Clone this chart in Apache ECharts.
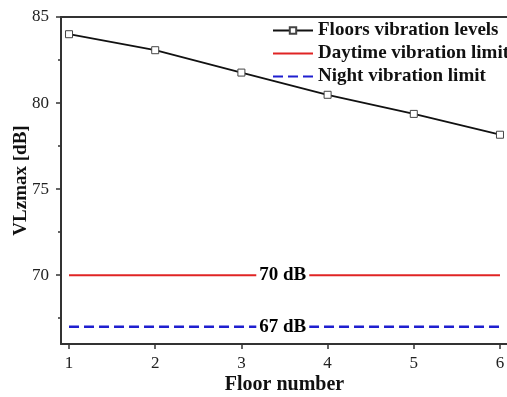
<!DOCTYPE html>
<html>
<head>
<meta charset="utf-8">
<script src="https://cdn.jsdelivr.net/npm/echarts@6/dist/echarts.min.js"></script>
<style>
  html, body { margin: 0; padding: 0; background: #fff; }
  #chart { width: 507px; height: 397px; }
</style>
</head>
<body>
<div id="chart"></div>
<script>
// data
var floors = [1, 2, 3, 4, 5, 6];
var floorLevels = [84.0, 83.07, 81.77, 80.48, 79.37, 78.16];
var dayLimit = 70;
var nightLimit = 67;
var limitLabelX = 3.48;   // where the "xx dB" tags sit on the limit lines
var yTicks = [70, 75, 80, 85];
var yMinorTicks = [67.5, 72.5, 77.5, 82.5];

var serif = '"Liberation Serif", "DejaVu Serif", serif';

var levelData = floors.map(function (f, i) { return [f, floorLevels[i]]; });
var dayData = [[floors[0], dayLimit], [floors[floors.length - 1], dayLimit]];
var nightData = [[floors[0], nightLimit], [floors[floors.length - 1], nightLimit]];

var dom = echarts.init(document.getElementById('chart'));

// legend entries for the plain limit lines: line only, no dot
var noDot = { color: 'rgba(0,0,0,0)', borderWidth: 0 };

// the frame's right side is cut off in the original
var xMin = 0.907, xMax = 6.093;

var option = {
    animation: false,
    grid: {
        left: 61,
        right: -1,
        top: 17,
        bottom: 53,
        outerBoundsMode: 'none',
        containLabel: false
    },
    legend: {
        left: 267,
        top: 16,
        orient: 'vertical',
        itemWidth: 40,
        itemHeight: 8,
        itemGap: 4,
        textStyle: {
            fontFamily: serif,
            fontWeight: 'bold',
            fontSize: 19,
            lineHeight: 19,
            color: '#111'
        },
        data: [
            'Floors vibration levels',
            { name: 'Daytime vibration limit', itemStyle: noDot },
            { name: 'Night vibration limit', itemStyle: noDot }
        ]
    },
    xAxis: [{
        type: 'value',
        min: xMin,
        max: xMax,
        name: 'Floor number',
        nameLocation: 'middle',
        nameGap: 31,
        nameMoveOverlap: false,
        nameTextStyle: {
            fontFamily: serif,
            fontWeight: 'bold',
            fontSize: 20,
            color: '#111'
        },
        axisLine: { show: true, lineStyle: { color: '#333', width: 2 } },
        axisTick: {
            show: true,
            length: 5,
            customValues: floors,
            lineStyle: { color: '#333', width: 1.5 }
        },
        axisLabel: {
            customValues: floors,
            margin: 11,
            fontFamily: serif,
            fontSize: 17,
            color: '#222'
        },
        splitLine: { show: false }
    }, {
        // top frame line only
        type: 'value',
        position: 'top',
        min: xMin,
        max: xMax,
        axisLine: { show: true, lineStyle: { color: '#333', width: 2 } },
        axisTick: { show: false },
        axisLabel: { show: false },
        splitLine: { show: false }
    }],
    yAxis: [{
        type: 'value',
        min: 66,
        max: 85,
        name: 'VLzmax [dB]',
        nameLocation: 'middle',
        nameGap: 30,
        nameMoveOverlap: false,
        nameTextStyle: {
            fontFamily: serif,
            fontWeight: 'bold',
            fontSize: 19,
            color: '#111'
        },
        axisLine: { show: true, lineStyle: { color: '#333', width: 2 } },
        axisTick: {
            show: true,
            length: 5,
            customValues: yTicks,
            lineStyle: { color: '#333', width: 1.5 }
        },
        axisLabel: {
            customValues: yTicks,
            margin: 12,
            fontFamily: serif,
            fontSize: 17,
            color: '#222'
        },
        splitLine: { show: false }
    }, {
        // second copy of the left axis only for the short minor ticks
        type: 'value',
        position: 'left',
        min: 66,
        max: 85,
        axisLine: { show: false },
        axisTick: {
            show: true,
            length: 3,
            customValues: yMinorTicks,
            lineStyle: { color: '#333', width: 1.5 }
        },
        axisLabel: { show: false },
        splitLine: { show: false }
    }],
    series: [{
        name: 'Floors vibration levels',
        type: 'line',
        symbol: 'rect',
        symbolSize: 7,
        z: 5,
        lineStyle: { color: '#111', width: 1.8 },
        itemStyle: { color: '#fff', borderColor: '#444', borderWidth: 1 },
        data: levelData
    }, {
        name: 'Daytime vibration limit',
        type: 'line',
        symbol: 'none',
        lineStyle: { color: '#e02424', width: 2 },
        itemStyle: { color: '#e02424' },
        data: dayData
    }, {
        name: 'Night vibration limit',
        type: 'line',
        symbol: 'none',
        lineStyle: { color: '#1f1fcf', width: 2.5, type: [10, 5] },
        itemStyle: { color: '#1f1fcf' },
        data: nightData
    }, {
        name: 'limit tags',
        type: 'scatter',
        symbolSize: 1,
        z: 10,
        silent: true,
        itemStyle: { color: '#fff', opacity: 1 },
        label: {
            show: true,
            position: 'inside',
            formatter: function (p) { return p.value[1] + ' dB'; },
            fontFamily: serif,
            fontWeight: 'bold',
            fontSize: 19,
            color: '#000',
            textBorderWidth: 0,
            backgroundColor: '#fff',
            padding: [1, 3, 0, 3]
        },
        data: [[limitLabelX, dayLimit], [limitLabelX, nightLimit]]
    }]
};

dom.setOption(option);
</script>
</body>
</html>
